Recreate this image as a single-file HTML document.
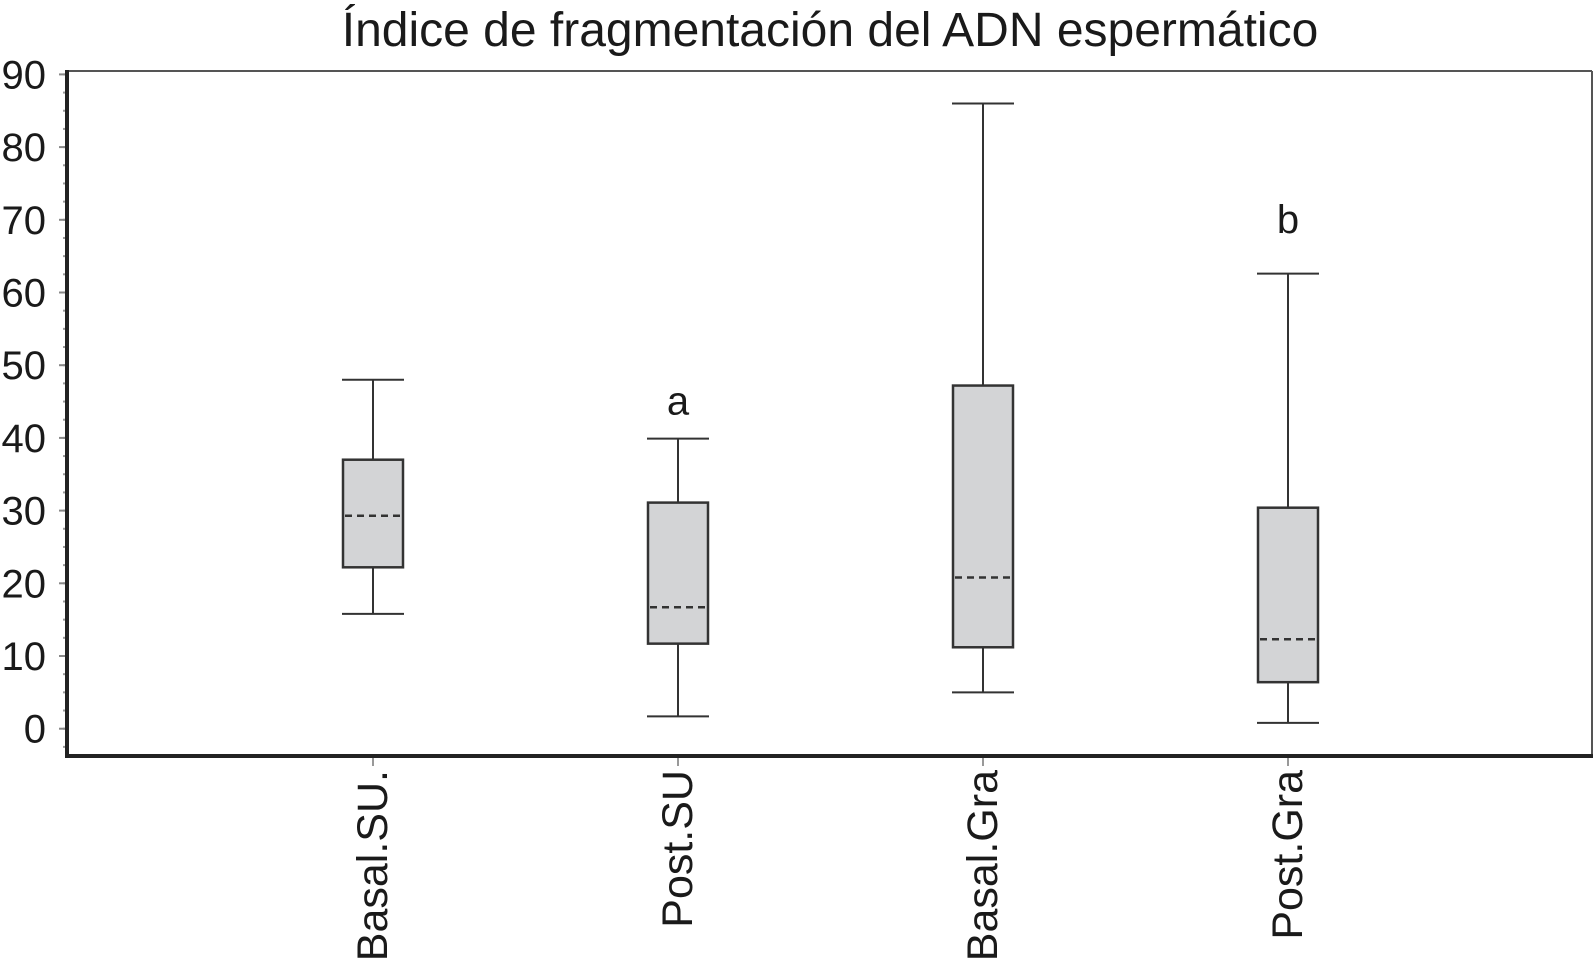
<!DOCTYPE html>
<html><head><meta charset="utf-8"><style>
html,body{margin:0;padding:0;background:#fff;}
svg{display:block;font-family:"Liberation Sans",Arial,sans-serif;}
</style></head><body>
<svg id="chart" width="1594" height="971" viewBox="0 0 1594 971">
<text x="830" y="46" text-anchor="middle" font-size="48" fill="#1a1a1a">Índice de fragmentación del ADN espermático</text>
<g id="plot"></g>
</svg>
<script>
const categories=["Basal.SU.","Post.SU","Basal.Gra","Post.Gra"];
const whiskerLow=[15.8,1.7,5.0,0.8];
const q1=[22.2,11.7,11.2,6.4];
const median=[29.3,16.7,20.8,12.3];
const q3=[37.0,31.1,47.2,30.4];
const whiskerHigh=[48.0,39.9,86.0,62.6];
const annotations=["","a","","b"];
const annotationValues=[0,45,0,70];
const yTicks=[0,10,20,30,40,50,60,70,80,90];

const NS="http://www.w3.org/2000/svg";
const g=document.getElementById('plot');
const L=67,R=1592,T=71,B=756;
function y(v){return 728.7-v*7.27;}
function x(i){return 373+i*305;}
function el(tag,attrs){const e=document.createElementNS(NS,tag);for(const k in attrs)e.setAttribute(k,attrs[k]);g.appendChild(e);return e;}

let f=el('line',{x1:L,y1:T,x2:R,y2:T,stroke:'#555','stroke-width':2});


f=el('line',{x1:R,y1:T,x2:R,y2:B,stroke:'#555','stroke-width':2});



for(let v=-2.5;v<=90;v+=2.5){
  const t=el('line',{x1:L-4,y1:y(v),x2:L,y2:y(v),stroke:'#999','stroke-width':2});
  
  
}
yTicks.forEach(v=>{
  const t=el('line',{x1:L-8,y1:y(v),x2:L,y2:y(v),stroke:'#888','stroke-width':2});
  
  
  const lb=el('text',{x:46,y:y(v)+14,'text-anchor':'end','font-size':40,fill:'#1a1a1a'});
  lb.textContent=v;
  
  
});

let a=el('line',{x1:L,y1:T-1,x2:L,y2:B+2,stroke:'#222','stroke-width':4});


a=el('line',{x1:L-2,y1:B,x2:R+1,y2:B,stroke:'#222','stroke-width':4});



categories.forEach((c,i)=>{
  const cx=x(i);
  const tk=el('line',{x1:cx,y1:B+2,x2:cx,y2:B+10,stroke:'#999','stroke-width':2});
  
  
  const w1=el('line',{x1:cx,y1:y(whiskerHigh[i]),x2:cx,y2:y(q3[i]),stroke:'#333','stroke-width':2});
  
  
  const w2=el('line',{x1:cx,y1:y(q1[i]),x2:cx,y2:y(whiskerLow[i]),stroke:'#333','stroke-width':2});
  
  
  const c1=el('line',{x1:cx-31,y1:y(whiskerHigh[i]),x2:cx+31,y2:y(whiskerHigh[i]),stroke:'#333','stroke-width':2});
  
  
  const c2=el('line',{x1:cx-31,y1:y(whiskerLow[i]),x2:cx+31,y2:y(whiskerLow[i]),stroke:'#333','stroke-width':2});
  
  
  const bx=el('rect',{x:cx-30,y:y(q3[i]),width:60,height:y(q1[i])-y(q3[i]),fill:'#d3d4d6',stroke:'#333','stroke-width':2.5});
  
  
  const md=el('line',{x1:cx-28,y1:y(median[i]),x2:cx+28,y2:y(median[i]),stroke:'#333','stroke-width':2.5,'stroke-dasharray':'7,5'});
  
  
  if(annotations[i]){
    const an=el('text',{x:cx,y:y(annotationValues[i])+13,'text-anchor':'middle','font-size':40,fill:'#1a1a1a'});
    an.textContent=annotations[i];
    
    
  }
  const lb=el('text',{x:0,y:0,'text-anchor':'end','font-size':43,fill:'#1a1a1a',transform:`translate(${cx+14},770) rotate(-90)`});
  lb.textContent=c;
  
  
});
</script>
</body></html>
